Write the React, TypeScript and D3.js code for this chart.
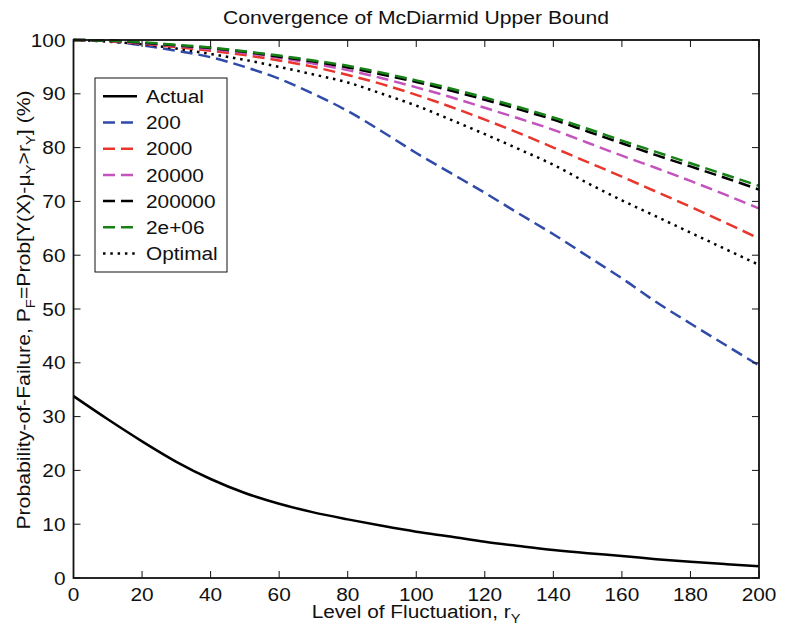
import React from "react";
import * as d3 from "d3";

const xs = [0, 10, 20, 30, 40, 50, 60, 70, 80, 90, 100, 110, 120, 130, 140, 150, 160, 170, 180, 190, 200];
const actual = [33.8, 29.5, 25.4, 21.6, 18.4, 15.8, 13.8, 12.2, 10.9, 9.7, 8.6, 7.7, 6.75, 5.95, 5.2, 4.6, 4.1, 3.5, 3.0, 2.6, 2.2];
const s200 = [100, 99.8, 99.0, 98.0, 96.8, 95.0, 92.8, 90.0, 86.8, 83.0, 79.0, 75.3, 71.6, 67.7, 63.9, 59.8, 55.7, 51.3, 47.3, 43.4, 39.5];
const s2000 = [100, 99.8, 99.3, 98.7, 98.0, 97.2, 96.2, 95.0, 93.5, 91.8, 89.8, 87.6, 85.2, 82.7, 80.0, 77.3, 74.6, 71.8, 69.0, 66.1, 63.1];
const s20000 = [100, 99.9, 99.4, 98.9, 98.3, 97.6, 96.7, 95.6, 94.4, 92.9, 91.2, 89.4, 87.4, 85.4, 83.3, 80.9, 78.5, 76.2, 73.8, 71.3, 68.7];
const s200000 = [100, 99.9, 99.5, 99.0, 98.5, 97.8, 96.9, 96.0, 94.9, 93.6, 92.2, 90.6, 88.9, 87.1, 85.2, 83.0, 80.8, 78.6, 76.5, 74.4, 72.2];
const s2e06 = [100, 99.9, 99.6, 99.1, 98.6, 97.9, 97.1, 96.2, 95.2, 93.9, 92.5, 91.0, 89.3, 87.5, 85.6, 83.5, 81.3, 79.2, 77.1, 75.0, 72.9];
const optimal = [100, 99.7, 99.2, 98.4, 97.4, 96.3, 95.0, 93.6, 92.1, 90.0, 87.8, 85.2, 82.5, 79.7, 76.8, 73.4, 70.2, 67.2, 64.2, 61.2, 58.2];

const seriesNames = ["Actual", "200", "2000", "20000", "200000", "2e+06", "Optimal"];
const xTicks = [0, 20, 40, 60, 80, 100, 120, 140, 160, 180, 200];
const yTicks = [0, 10, 20, 30, 40, 50, 60, 70, 80, 90, 100];

const W = 795, H = 638;
const L = 73.5, R = 759, T = 40, B = 578;
const FONT = "'Liberation Sans', Arial, Helvetica, sans-serif";
const FS = 18.6;
const SX = 1.12;

function Txt(props: { x: number; y: number; anchor?: string; size?: number; sx?: number; rot?: number; dy?: string; children: React.ReactNode }) {
  const { x, y, anchor = "start", size = FS, sx = SX, rot = 0, dy, children } = props;
  return (
    <g transform={`translate(${x},${y}) rotate(${rot}) scale(${sx},1)`}>
      <text x={0} y={0} dy={dy} textAnchor={anchor} fontSize={size} fill="#111">{children}</text>
    </g>
  );
}

export default function App() {
  const x = d3.scaleLinear().domain([0, 200]).range([L, R]);
  const y = d3.scaleLinear().domain([0, 100]).range([B, T]);
  const line = d3.line<number>().x((_, i) => x(xs[i])).y((d) => y(d)).curve(d3.curveMonotoneX);

  const DASH = "12,6";
  const DOT = "2.5,4.8";
  const series = [
    { name: seriesNames[0], data: actual, color: "#000", dash: "none" },
    { name: seriesNames[1], data: s200, color: "#2f4aa8", dash: DASH },
    { name: seriesNames[2], data: s2000, color: "#e8362c", dash: DASH },
    { name: seriesNames[3], data: s20000, color: "#c453be", dash: DASH },
    { name: seriesNames[4], data: s200000, color: "#000", dash: DASH },
    { name: seriesNames[5], data: s2e06, color: "#168216", dash: DASH },
    { name: seriesNames[6], data: optimal, color: "#000", dash: DOT },
  ];
  const drawOrder = [0, 1, 6, 2, 3, 4, 5];

  const lgX = 95, lgY = 78, lgW = 132, lgH = 194;
  const lgRow0 = 96.3, lgStep = 26.2;

  return (
    <svg width={W} height={H} style={{ position: "absolute", left: 0, top: 0, background: "#fff" }} fontFamily={FONT}>
      <rect x={0} y={0} width={W} height={H} fill="#fff" />
      <Txt x={416} y={24} anchor="middle" size={19.2} sx={1.1}>Convergence of McDiarmid Upper Bound</Txt>

      {drawOrder.map((i) => {
        const s = series[i];
        return <path key={s.name} d={line(s.data) || ""} fill="none" stroke={s.color} strokeWidth={2.5} strokeDasharray={s.dash} />;
      })}

      <rect x={L} y={T} width={R - L} height={B - T} fill="none" stroke="#111" strokeWidth={1.8} />
      {xTicks.map((t) => (
        <g key={"xt" + t}>
          <line x1={x(t)} x2={x(t)} y1={B} y2={B - 7} stroke="#111" strokeWidth={1} />
          <line x1={x(t)} x2={x(t)} y1={T} y2={T + 7} stroke="#111" strokeWidth={1} />
          <Txt x={x(t)} y={601} anchor="middle">{t}</Txt>
        </g>
      ))}
      {yTicks.map((t) => (
        <g key={"yt" + t}>
          <line x1={L} x2={L + 7} y1={y(t)} y2={y(t)} stroke="#111" strokeWidth={1} />
          <line x1={R} x2={R - 7} y1={y(t)} y2={y(t)} stroke="#111" strokeWidth={1} />
          <Txt x={65.5} y={y(t)} dy="0.36em" anchor="end">{t}</Txt>
        </g>
      ))}

      <Txt x={416} y={618} anchor="middle">
        Level of Fluctuation, r<tspan fontSize={13} dy={5}>Y</tspan>
      </Txt>

      <Txt x={30} y={310} rot={-90} anchor="middle" sx={1.14}>
        Probability-of-Failure, P<tspan fontSize={13} dy={5}>F</tspan><tspan dy={-5}>=Prob[Y(X)-μ</tspan><tspan fontSize={13} dy={5}>Y</tspan><tspan dy={-5}>&gt;r</tspan><tspan fontSize={13} dy={5}>Y</tspan><tspan dy={-5}>] (%)</tspan>
      </Txt>

      <rect x={lgX} y={lgY} width={lgW} height={lgH} fill="#fff" stroke="#111" strokeWidth={1} />
      {series.map((s, i) => {
        const yy = lgRow0 + i * lgStep;
        return (
          <g key={"lg" + s.name}>
            <line x1={103} x2={137} y1={yy} y2={yy} stroke={s.color} strokeWidth={2.5} strokeDasharray={s.dash} />
            <Txt x={146} y={yy} dy="0.36em">{s.name}</Txt>
          </g>
        );
      })}
    </svg>
  );
}
